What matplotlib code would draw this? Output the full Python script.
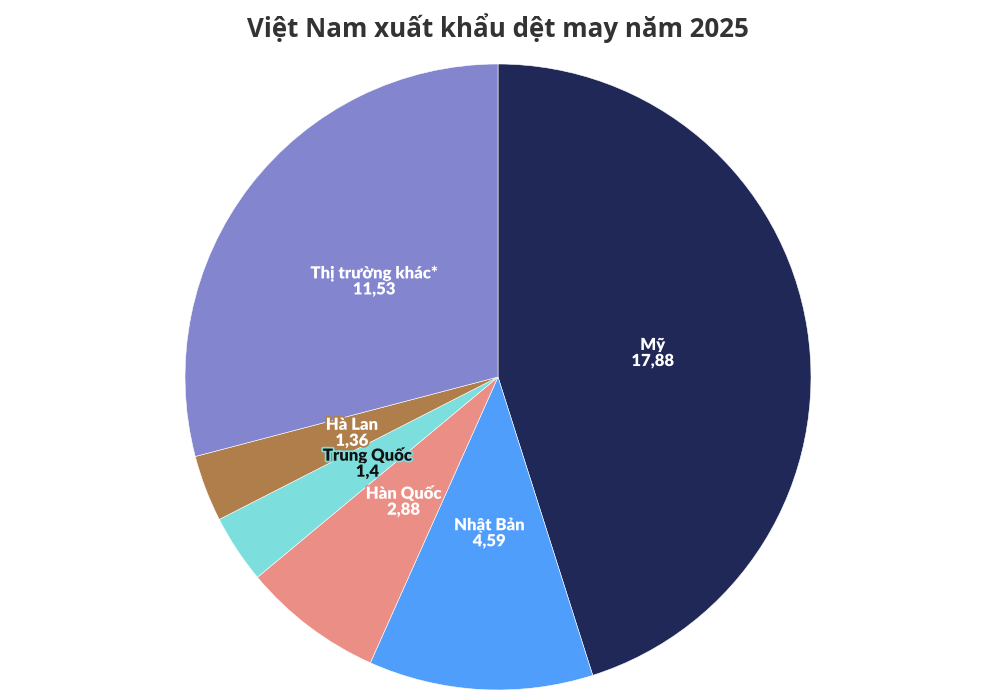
import numpy as np
import matplotlib.pyplot as plt
import matplotlib.patheffects as pe

labels = ['Mỹ', 'Nhật Bản', 'Hàn Quốc', 'Trung Quốc', 'Hà Lan', 'Thị trường khác*']
values = [17.88, 4.59, 2.88, 1.4, 1.36, 11.53]
value_text = ['17,88', '4,59', '2,88', '1,4', '1,36', '11,53']
colors = ['#1f2857', '#4f9efc', '#eb8f86', '#7ddede', '#b07e4a', '#8385cf']
text_colors = ['white', 'white', 'white', '#111111', 'white', 'white']

plt.rcParams['font.family'] = ['Open Sans', 'DejaVu Sans']

fig = plt.figure(figsize=(10, 6.99), dpi=100)
fig.patch.set_facecolor('white')

R = 313
cx, cy = 498, 377
ax = fig.add_axes([(cx - R) / 1000, (699 - cy - R) / 699, 2 * R / 1000, 2 * R / 699])

wedges, _ = ax.pie(values, colors=colors, startangle=90, counterclock=False,
                   radius=1, wedgeprops=dict(edgecolor='white', linewidth=0.4))
ax.set_xlim(-1, 1)
ax.set_ylim(-1, 1)
ax.set_aspect('equal')
ax.axis('off')

for w, lab, vt, col, tc in zip(wedges, labels, value_text, colors, text_colors):
    ang = np.deg2rad((w.theta1 + w.theta2) / 2)
    x, y = 0.5 * np.cos(ang), 0.5 * np.sin(ang)
    ax.text(x, y, lab + '\n' + vt, ha='center', va='center', fontsize=12,
            fontweight='heavy', color=tc, linespacing=1.0,
            family=['Lato', 'DejaVu Sans'],
            path_effects=[pe.withStroke(linewidth=2.5, foreground=col)])

fig.text(0.498, 1 - 28 / 699, 'Việt Nam xuất khẩu dệt may năm 2025', ha='center',
         va='center', fontsize=18.6, fontweight='bold', color='#333333')

fig.savefig('out.png', dpi=100)
